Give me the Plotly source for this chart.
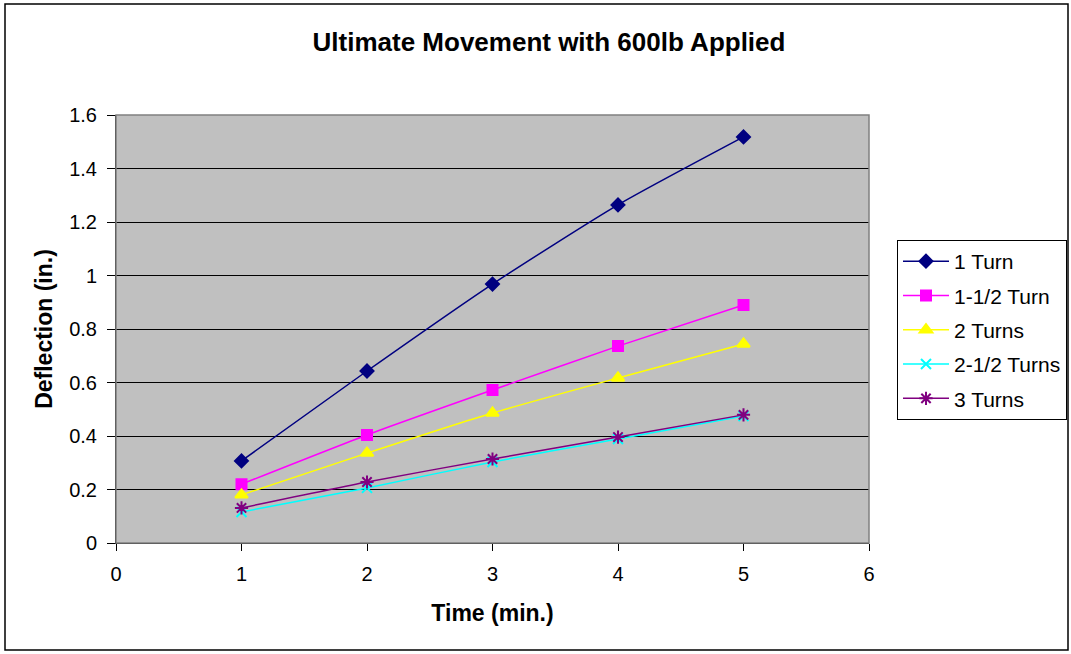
import plotly.graph_objects as go

time_min = [1, 2, 3, 4, 5]
series_names = ["1 Turn", "1-1/2 Turn", "2 Turns", "2-1/2 Turns", "3 Turns"]
turn_1 = [0.307, 0.643, 0.968, 1.264, 1.518]
turn_1_5 = [0.220, 0.404, 0.572, 0.736, 0.890]
turn_2 = [0.180, 0.336, 0.486, 0.617, 0.744]
turn_2_5 = [0.116, 0.206, 0.303, 0.389, 0.475]
turn_3 = [0.131, 0.228, 0.314, 0.396, 0.479]

values = [turn_1, turn_1_5, turn_2, turn_2_5, turn_3]
colors = ["#000080", "#FF00FF", "#FFFF00", "#00FFFF", "#800080"]
symbols = ["diamond", "square", "triangle-up", "x-thin-open", "asterisk-open"]
sizes = [10, 10, 11, 10, 11]

fig = go.Figure()
for i, (name, vals, c, s, sz) in enumerate(zip(series_names, values, colors, symbols, sizes)):
    fig.add_trace(go.Scatter(
        x=time_min, y=vals, name=name, mode="lines+markers", legendgroup=f"g{i}",
        line=dict(color=c, width=1.5, shape="spline", smoothing=0.6),
        marker=dict(symbol=s, size=sz, color=c, line=dict(color=c, width=2)),
    ))

fig.update_layout(
    width=1071, height=654,
    margin=dict(l=116, r=202, t=115, b=111, autoexpand=False),
    paper_bgcolor="white",
    plot_bgcolor="#C0C0C0",
    font=dict(family="Liberation Sans, Arial, sans-serif", size=20, color="black"),
    title=dict(text="<b>Ultimate Movement with 600lb Applied</b>", x=549 / 1071,
               xref="container", xanchor="center",
               y=1 - 42 / 654, yanchor="middle", font=dict(size=26)),
    xaxis=dict(range=[0, 6], dtick=1, showgrid=False, zeroline=False,
               showline=True, linecolor="black", linewidth=1, mirror=False,
               ticks="outside", ticklen=7, tickcolor="black", ticklabelstandoff=6,
               title=dict(text="<b>Time (min.)</b>", font=dict(size=23), standoff=20)),
    yaxis=dict(range=[0, 1.6], dtick=0.2, showgrid=True, gridcolor="black", gridwidth=1,
               zeroline=False, showline=True, linecolor="black", linewidth=1,
               ticks="outside", ticklen=8, tickcolor="black", ticklabelstandoff=6,
               tickformat="~g",
               title=dict(text="<b>Deflection (in.)</b>", font=dict(size=23), standoff=10)),
    legend=dict(x=(897 - 116) / 753, y=(543 - 240) / 428, xanchor="left", yanchor="top",
                bordercolor="black", borderwidth=1, bgcolor="white",
                font=dict(size=21), itemwidth=46, tracegroupgap=4),
    showlegend=True,
)

# plot area border
fig.add_shape(type="rect", xref="paper", yref="paper", x0=0, y0=0, x1=1, y1=1,
              line=dict(color="#808080", width=1.5), layer="above")
# outer chart border
fig.add_shape(type="rect", xref="paper", yref="paper",
              x0=(5 - 116) / 753, x1=(1068 - 116) / 753,
              y0=(543 - 650) / 428, y1=(543 - 4) / 428,
              line=dict(color="black", width=1.5))

fig.write_html("out.html")
